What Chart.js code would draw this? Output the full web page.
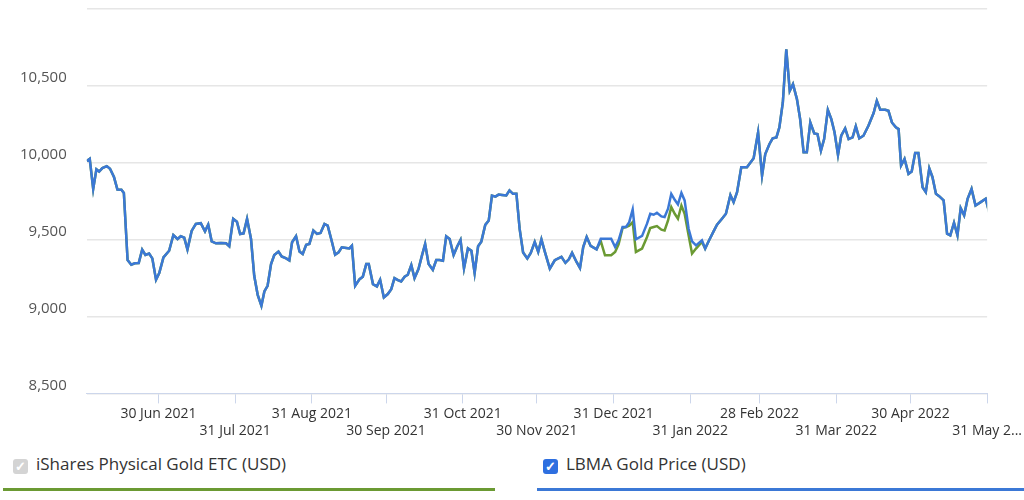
<!DOCTYPE html>
<html>
<head>
<meta charset="utf-8">
<script src="https://cdn.jsdelivr.net/npm/chart.js@4.4.0/dist/chart.umd.min.js"></script>
<style>
  body { margin: 0; background: #fff; font-family: "Open Sans", sans-serif; overflow: hidden; }
  #wrap { position: absolute; top: -20px; left: 0; width: 1024px; height: 461px; }
  .legend { position: absolute; top: 452px; height: 36px; font-size: 17px; color: #333; }
  .legend span.box { display: inline-block; width: 15px; height: 15px; border-radius: 3px; color: #fff;
    font-size: 13px; line-height: 15px; text-align: center; vertical-align: -1px; margin-right: 8px; font-weight: bold; }
  #legEtc { left: 3px; width: 492px; border-bottom: 3px solid #6b9a33; }
  #legEtc span.box { background: #d4d4d4; margin-left: 10px; }
  #legLbma { left: 537px; width: 487px; border-bottom: 3px solid #3b78d6; }
  #legLbma span.box { background: #2e6fe0; margin-left: 6px; }
</style>
</head>
<body>
<div id="wrap"><canvas id="chart"></canvas></div>
<div class="legend" id="legEtc"><span class="box">✓</span>iShares Physical Gold ETC (USD)</div>
<div class="legend" id="legLbma"><span class="box">✓</span>LBMA Gold Price (USD)</div>
<script>
"use strict";

// days since 1 Jun 2021
const days = [0, 1.2, 2.6, 3.9, 5, 6.3, 8.1, 9.4, 11, 12.4, 14, 15, 16.5, 18, 19.4, 21, 22.4, 23.7, 25.2, 26.5,
  28, 29.3, 31, 33.3, 35, 36.7, 38, 39.4, 40.7, 42.4, 44.1, 46.1, 47.8, 49.1, 50.5, 52.2, 54.2, 56.3, 57.6, 59.2,
  60.7, 62, 63.4, 64.8, 66.4, 67.7, 69.1, 70.6, 71.8, 73.1, 74.5, 75.8, 77.5, 78.8, 80.6, 81.9, 83, 84.6, 86, 87.3,
  88.7, 90, 91.6, 93.1, 94.5, 96.1, 97.4, 99, 100.4, 101.8, 103.1, 104.9, 106.2, 107.2, 108.5, 110.3, 111.6, 113, 114, 115.7,
  117.3, 118.6, 120.1, 121.7, 123.1, 124.4, 125.8, 127.1, 128.5, 129.8, 131.2, 132.5, 134.1, 135.5, 136.8, 138.2, 139.9, 141.3, 142.6, 144,
  145.3, 146.7, 148.3, 149.8, 151.1, 152.5, 154.1, 155.5, 156.8, 158.2, 159.5, 161.1, 162.5, 163.8, 165.2, 166.5, 167.9, 169.6, 170.9, 172.3,
  173.7, 175, 176.4, 178.1, 179.5, 181.1, 182.5, 183.8, 185.2, 187.2, 189.2, 191.9, 193.5, 194.9, 196.2, 198, 199.4, 200.7, 202.1, 203.7,
  206.1, 207.8, 209.5, 212, 213.6, 215, 216.6, 218, 219.3, 220.7, 222, 224.5, 226.5, 227.8, 229.2, 230.5, 232.3, 233.6, 235, 236.3,
  237.7, 239, 240.4, 241.7, 243.3, 244.7, 246.3, 248.7, 250, 251.6, 253.4, 254.8, 256.8, 258.4, 260.2, 261.5, 262.9, 264.6, 266.9, 269.6,
  271.4, 273, 274.3, 276, 277.3, 278.8, 280, 281.4, 282.8, 284.2, 285.5, 287.1, 288.4, 289.8, 291.1, 292.5, 294.1, 295.4, 296.8, 298.1,
  299.6, 301, 302.3, 303.7, 305, 306.6, 308, 309.6, 310.9, 312.3, 314, 316, 318.1, 319.4, 320.8, 322.8, 324.1, 325.5, 327.1, 328.2,
  329.2, 330.6, 332.2, 333.5, 334.9, 336.2, 337.9, 339.2, 340.6, 341.9, 343.3, 344.6, 346.4, 347.8, 349.1, 350.6, 352, 353.3, 354.7, 356.1,
  357.7, 359.3, 361.4, 363.4, 364.8];

const lbma = [10011, 10026, 9830, 9957, 9943, 9965, 9978, 9961, 9907, 9826, 9824, 9804, 9367, 9337, 9346, 9348, 9435, 9400, 9409, 9378,
  9239, 9283, 9385, 9428, 9530, 9504, 9522, 9513, 9435, 9557, 9602, 9607, 9554, 9598, 9489, 9476, 9478, 9476, 9457, 9635,
  9617, 9537, 9541, 9635, 9504, 9265, 9141, 9070, 9163, 9200, 9341, 9400, 9422, 9391, 9378, 9365, 9483, 9522, 9422, 9407,
  9467, 9472, 9559, 9537, 9543, 9602, 9591, 9493, 9402, 9417, 9450, 9446, 9443, 9461, 9200, 9243, 9259, 9341, 9341, 9211,
  9196, 9239, 9124, 9146, 9178, 9250, 9237, 9228, 9259, 9272, 9335, 9250, 9309, 9396, 9472, 9341, 9304, 9367, 9367, 9363,
  9522, 9504, 9400, 9457, 9498, 9313, 9443, 9428, 9283, 9457, 9487, 9596, 9624, 9787, 9780, 9793, 9791, 9787, 9820, 9798,
  9798, 9570, 9417, 9378, 9413, 9485, 9420, 9502, 9420, 9312, 9366, 9388, 9349, 9372, 9414, 9355, 9316, 9452, 9517, 9459,
  9437, 9506, 9506, 9506, 9452, 9496, 9582, 9582, 9614, 9696, 9502, 9524, 9604, 9668, 9662, 9675, 9651, 9647, 9701, 9798,
  9759, 9729, 9804, 9755, 9571, 9489, 9463, 9496, 9442, 9496, 9554, 9597, 9636, 9668, 9790, 9744, 9809, 9971, 9971, 10029,
  10198, 9917, 10057, 10122, 10159, 10165, 10230, 10392, 10738, 10468, 10511, 10414, 10284, 10068, 10068, 10262, 10191, 10187, 10079, 10154,
  10344, 10284, 10198, 10051, 10176, 10224, 10154, 10165, 10237, 10159, 10176, 10241, 10323, 10403, 10344, 10344, 10338, 10262, 10230, 10219,
  9982, 10025, 9928, 9943, 10064, 10064, 9841, 9809, 9964, 9906, 9798, 9783, 9755, 9539, 9528, 9610, 9528, 9705, 9658, 9766,
  9830, 9722, 9744, 9766, 9679];

// ETC follows LBMA except for these days (Dec 2021 - Jan 2022)
const etcDays = [207.8, 209.5, 212, 213.6, 215, 216.6, 219.3, 220.7, 222, 224.5, 226.5, 227.8, 229.2, 230.5, 232.3, 233.6, 235, 236.3,
  237.7, 239, 240.4, 241.7, 243.3, 244.7, 246.3, 248.7];
const etcValues = [9491, 9398, 9398, 9420, 9470, 9575, 9590, 9614, 9420, 9442, 9517, 9575, 9582, 9588, 9565, 9560, 9625, 9712,
  9668, 9636, 9722, 9668, 9528, 9409, 9442, 9485];

const tickDays = [29, 60, 91, 121, 152, 182, 213, 244, 272, 303, 333, 364];
const tickLabels = ['30 Jun 2021', '31 Jul 2021', '31 Aug 2021', '30 Sep 2021', '31 Oct 2021', '30 Nov 2021',
  '31 Dec 2021', '31 Jan 2022', '28 Feb 2022', '31 Mar 2022', '30 Apr 2022', '31 May 2...'];

const lbmaPoints = days.map((d, i) => ({ x: d, y: lbma[i] }));
const etcPoints = days.map((d, i) => {
  const k = etcDays.indexOf(d);
  return { x: d, y: k >= 0 ? etcValues[k] : lbma[i] };
});

const ctx = document.getElementById('chart').getContext('2d');
const chart = new Chart(ctx, {
  type: 'line',
  data: {
    datasets: [{
      label: 'LBMA Gold Price (USD)',
      data: lbmaPoints,
      borderColor: '#3b78d6',
      borderWidth: 2.5,
      pointRadius: 0,
      tension: 0,
      order: 0
    }, {
      label: 'iShares Physical Gold ETC (USD)',
      data: etcPoints,
      borderColor: '#6b9a33',
      borderWidth: 2.5,
      pointRadius: 0,
      tension: 0,
      order: 1
    }]
  },
  options: {
    responsive: true,
    maintainAspectRatio: false,
    animation: false,
    layout: { padding: { top: 9, right: 36, left: 0, bottom: 0 } },
    plugins: { legend: { display: false }, tooltip: { enabled: false } },
    scales: {
      x: {
        type: 'linear',
        min: 0,
        max: 364,
        afterBuildTicks: axis => { axis.ticks = tickDays.map(v => ({ value: v })); },
        grid: { drawOnChartArea: false, color: '#ccd6eb', tickLength: 10 },
        border: { color: '#ccd6eb' },
        ticks: {
          autoSkip: false,
          maxRotation: 0,
          padding: 2,
          color: '#333',
          font: { family: 'Open Sans', size: 14 },
          callback: (v, i) => i % 2 === 0 ? [tickLabels[i], ''] : ['', tickLabels[i]]
        }
      },
      y: {
        min: 8500,
        max: 11000,
        grid: { color: '#e6e6e6', lineWidth: 1.5, drawTicks: false },
        border: { display: false },
        ticks: {
          stepSize: 500,
          padding: 20,
          labelOffset: -8,
          color: '#555',
          font: { family: 'Open Sans', size: 15 },
          callback: v => v === 11000 ? '' : v.toLocaleString('en-US')
        }
      }
    }
  }
});
</script>
</body>
</html>
